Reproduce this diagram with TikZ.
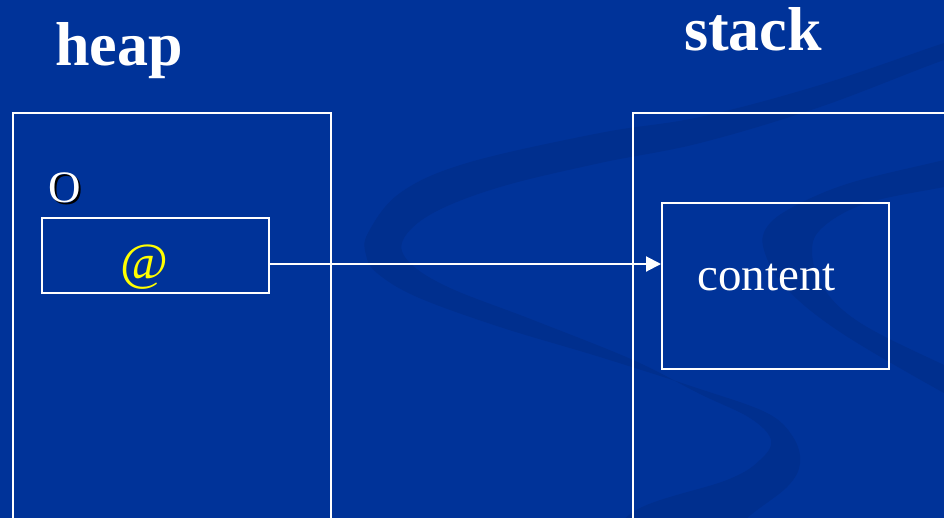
\documentclass[tikz,border=0pt]{standalone}
\usepackage{fontspec}
\setmainfont{Liberation Serif}
\usetikzlibrary{arrows.meta}
\definecolor{bgblue}{RGB}{0,51,153}
\definecolor{swooshblue}{RGB}{0,47,142}
\definecolor{atyellow}{RGB}{255,255,0}
\begin{document}
\begin{tikzpicture}[x=1pt,y=-1pt,
  box/.style={draw=white,line width=2pt,inner sep=0pt},
  titletext/.style={inner sep=0pt,text=white,font=\fontsize{62}{62}\selectfont\bfseries},
  bodytext/.style={inner sep=0pt,font=\fontsize{45}{45}\selectfont},
  conn/.style={draw=white,line width=2pt,-{Triangle[length=15pt,width=15pt]}}]
\path[use as bounding box] (0,0) rectangle (944,517);
\clip (0,0) rectangle (944,517);
\fill[bgblue] (-5,-5) rectangle (950,525);
% background swooshes
\fill[swooshblue] plot[smooth cycle, tension=0.6] coordinates {
  (980,32) (944,43) (820,85) (700,117) (600,133) (467,163) (400,193) (368,233)
  (366,255) (377,273) (417,297) (500,327) (600,357) (700,389) (767,413)
  (793,437) (800,463) (787,487) (745,520) (710,560)
  (610,560) (633,512) (727,480) (760,460) (771,440) (750,418) (700,394)
  (633,360) (533,320) (450,288) (410,263) (403,240) (433,213) (500,187)
  (600,163) (700,143) (820,107) (944,60) (980,52)};
\fill[swooshblue] plot[smooth cycle, tension=0.6] coordinates {
  (980,150) (944,160) (850,183) (793,207) (767,227) (764,250) (785,287)
  (840,332) (944,393) (980,410)
  (980,380) (944,365) (862,324) (824,289) (812,252) (823,227) (867,203)
  (944,187) (980,180)};
% boxes
\node[box, minimum width=318pt, minimum height=440pt, anchor=north west] (heap) at (12,112) {};
\node[box, minimum width=420pt, minimum height=440pt, anchor=north west] (stack) at (632,112) {};
\node[box, minimum width=227pt, minimum height=75pt] (ref) at (155.5,255.5) {};
\node[box, minimum width=227pt, minimum height=166pt] (content) at (775.5,286) {};
% texts
\node[titletext, anchor=base west] (heaplabel) at (55,65) {heap};
\node[titletext, anchor=base west] (stacklabel) at (684,50) {stack};
\node[bodytext, anchor=base west, text=black] (oshadow) at (50.5,204) {O};
\node[bodytext, anchor=base west, text=white] (olabel) at (48.5,202) {O};
\node[inner sep=0pt, font=\fontsize{52}{52}\selectfont, anchor=base, text=atyellow] (atlabel) at (144,279) {@};
\node[inner sep=0pt, anchor=base west, text=white, font=\fontsize{47}{47}\selectfont] (ctext) at (697,290) {content};
% connector
\coordinate (a) at ([yshift=-8.5pt]ref.east);
\draw[conn] (a) -- (a -| content.west);
\end{tikzpicture}
\end{document}
